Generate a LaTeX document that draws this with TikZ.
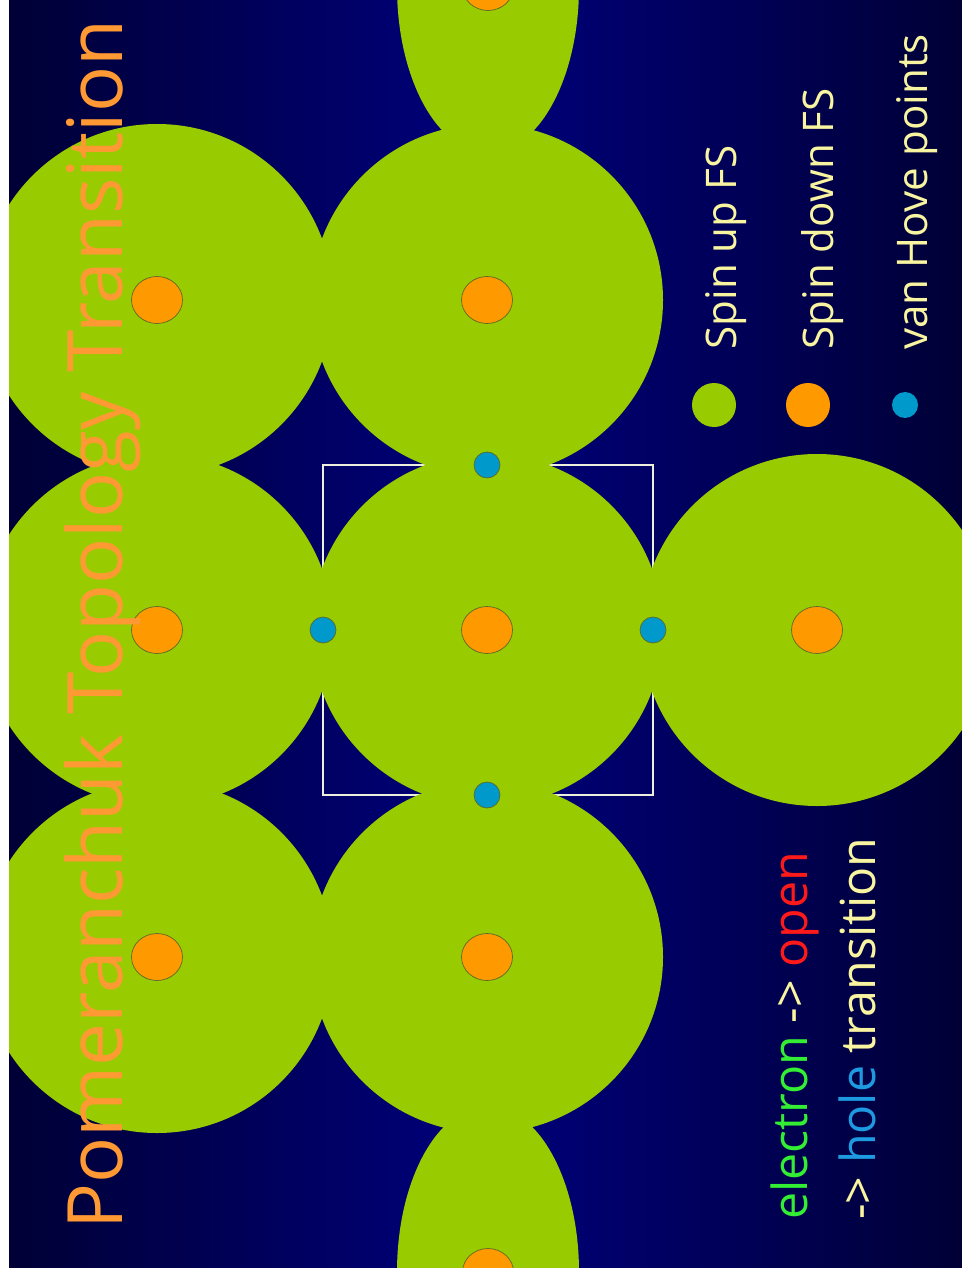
\documentclass[tikz,border=0pt]{standalone}
\usepackage{fontspec}
\setmainfont{Open Sans}
\usetikzlibrary{positioning}

\definecolor{fsgreen}{HTML}{99CC00}
\definecolor{fsorange}{HTML}{FF9900}
\definecolor{vhblue}{HTML}{0099CC}
\definecolor{ringline}{HTML}{5A6A2A}
\definecolor{titleorange}{HTML}{FF9933}
\definecolor{lblyellow}{HTML}{F8F4A0}
\definecolor{elgreen}{HTML}{33EE33}
\definecolor{openred}{HTML}{FF1A1A}
\definecolor{holeblue}{HTML}{1E9BE0}
\definecolor{bgdark}{HTML}{000036}
\definecolor{bgmid}{HTML}{00007C}
\definecolor{cellline}{HTML}{EEEEDD}

\begin{document}
\begin{tikzpicture}[x=0.02cm, y=-0.02cm]

\tikzset{
  fs/.style={fill=fsgreen},
  spindown/.style={fill=fsorange, draw=ringline, line width=0.4pt},
  vanhove/.style={fill=vhblue, draw=ringline, line width=0.4pt},
  lbl/.style={rotate=90, anchor=base west, inner sep=0pt, text=lblyellow, font=\fontsize{24}{28}\selectfont},
  big/.style={rotate=90, anchor=base west, inner sep=0pt, font=\fontsize{27.5}{31}\selectfont},
}

\useasboundingbox (0,0) rectangle (962,1273);
\fill[white] (0,0) rectangle (962,1273);
\shade[left color=bgdark, right color=bgdark, middle color=bgmid] (9,0) rectangle (962,1267);

% unit cell
\draw[cellline, line width=0.85pt] (323,465) rectangle (653,795);

\begin{scope}
\clip (9,0) rectangle (962,1267);
% spin up Fermi surfaces
\foreach \x/\y in {157/300, 157/630, 157/957, 487/300, 487/630, 487/957, 817/630}
  \fill[fs] (\x,\y) circle (176);
\fill[fs] (488,-13) ellipse (91 and 166);
\fill[fs] (488,1272) ellipse (91 and 166);
% spin down Fermi surfaces
\foreach \x/\y in {157/300, 157/630, 157/957, 487/300, 487/630, 487/957, 817/630, 488/-13, 488/1272}
  \draw[spindown] (\x,\y) ellipse (25.5 and 23.5);
\end{scope}

% van Hove points
\draw[vanhove] (323,630) circle (13);
\draw[vanhove] (653,630) circle (13);
\draw[vanhove] (487,465) circle (13);
\draw[vanhove] (487,795) circle (13);

\node[rotate=90, anchor=base west, inner sep=0pt, text=titleorange, font=\fontsize{43.5}{48}\selectfont] (title) at (122,1230) {Pomeranchuk Topology Transition};

% legend
\fill[fsgreen] (714,405) circle (22);
\fill[fsorange] (808,405) circle (22);
\fill[vhblue] (905,405) circle (13);
\node[lbl] (spinup) at (736,350) {Spin up FS};
\node[lbl] (spindown) at (833,350) {Spin down FS};
\node[lbl] (vhpoints) at (927,350) {van Hove points};

\node[big] (eltr) at (807,1220) {\textcolor{elgreen}{electron} \textcolor{lblyellow}{->} \textcolor{openred}{open}};
\node[big] (holetr) at (875,1220) {\textcolor{lblyellow}{->} \textcolor{holeblue}{hole} \textcolor{lblyellow}{transition}};

\end{tikzpicture}
\end{document}
